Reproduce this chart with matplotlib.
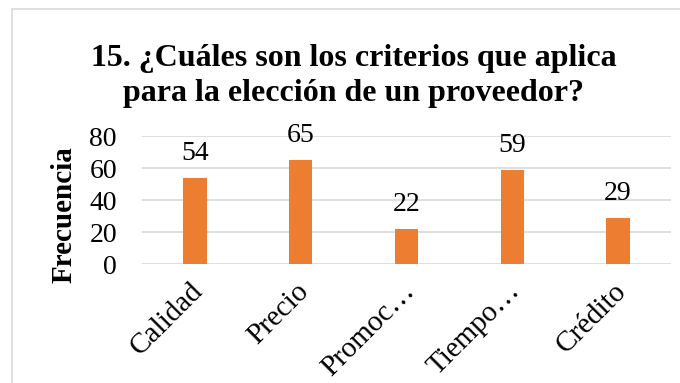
import matplotlib
matplotlib.use("Agg")
import matplotlib.pyplot as plt
import matplotlib.transforms as mtransforms
from matplotlib.patches import Rectangle

categorias = ["Calidad", "Precio", "Promoc…", "Tiempo…", "Crédito"]
frecuencia = [54, 65, 22, 59, 29]
titulo = "15. ¿Cuáles son los criterios que aplica\npara la elección de un proveedor?"

plt.rcParams['font.family'] = ['Liberation Serif', 'DejaVu Serif']

fig = plt.figure(figsize=(6.8, 3.83), dpi=100)
ax = fig.add_axes([142/680, 1-264/383, (671-142)/680, (264-136)/383])

x = range(len(categorias))
barras = ax.bar(x, frecuencia, width=0.22, color="#ED7D31", zorder=3)
for xi, v in zip(x, frecuencia):
    ax.text(xi, v + 11, str(v), ha="center", va="baseline", fontsize=20, clip_on=False)

ax.set_xlim(-0.5, len(categorias) - 0.5)
ax.set_ylim(0, 80)
ax.set_yticks([0, 20, 40, 60, 80])
ax.yaxis.grid(True, color="#D9D9D9", linewidth=1.2, zorder=0)
for s in ax.spines.values():
    s.set_visible(False)
ax.tick_params(axis="both", length=0, labelsize=20)
ax.tick_params(axis="y", pad=18)
ax.set_xticks(list(x))
ax.set_xticklabels(categorias, rotation=45, ha="right", rotation_mode="anchor", fontsize=21)
ax.tick_params(axis="x", pad=10)
desplazar = mtransforms.ScaledTranslation(-5/100, 0, fig.dpi_scale_trans)
for t in ax.get_xticklabels():
    t.set_transform(t.get_transform() + desplazar)

fig.text(64/680, 1-215/383, "Frecuencia", rotation=90, ha="center", va="center",
         fontsize=21, fontweight="bold")
fig.text(0.52, 1-76/383, titulo, ha="center", va="center", fontsize=23,
         fontweight="bold", linespacing=1.25)

fig.patches.append(Rectangle((12/680, -0.1), 1.2, 1 - 9/383 + 0.1, transform=fig.transFigure,
                             fill=False, edgecolor="#D9D9D9", linewidth=1.2))

fig.savefig("out.png", dpi=100)
